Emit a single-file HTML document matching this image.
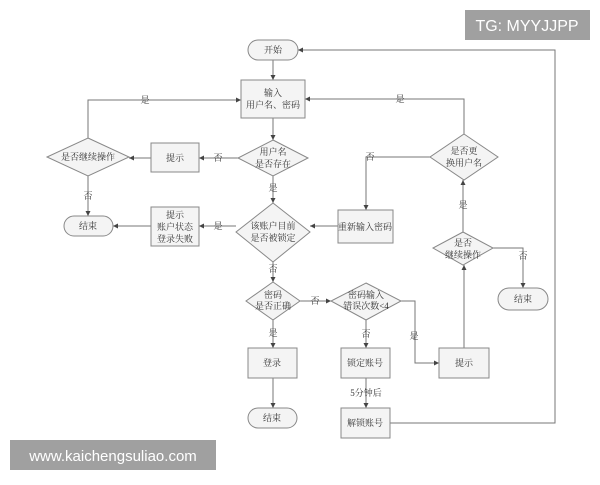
<!DOCTYPE html>
<html><head><meta charset="utf-8"><style>
body{margin:0;background:#fff;width:600px;height:480px;overflow:hidden}
svg text{font-family:"Liberation Serif","Noto Serif CJK SC",serif;font-size:9px;fill:#333}
</style></head><body>
<svg width="600" height="480" viewBox="0 0 600 480" xmlns="http://www.w3.org/2000/svg">
<defs><marker id="a" markerWidth="6" markerHeight="6" refX="5" refY="3" orient="auto"><path d="M0,0.5 L5,3 L0,5.5z" fill="#444"/></marker></defs>
<g fill="none" stroke="#777" stroke-width="1" marker-end="url(#a)">
<path d="M273,60V80"/>
<path d="M273,118V140"/>
<path d="M273,176V203"/>
<path d="M273,262V282"/>
<path d="M238,158H199"/>
<path d="M151,158H129"/>
<path d="M88,138V100H241"/>
<path d="M88,176V216"/>
<path d="M236,226H199"/>
<path d="M151,226H113"/>
<path d="M464,134V99H305"/>
<path d="M430,157H366V210"/>
<path d="M338,226H310"/>
<path d="M463,232V180"/>
<path d="M493,248H523V288"/>
<path d="M300,301H331"/>
<path d="M401,301H415V363H439"/>
<path d="M464,348V265"/>
<path d="M366,320V348"/>
<path d="M366,378V408"/>
<path d="M273,320V348"/>
<path d="M273,378V408"/>
<path d="M390,423H555V50H298"/>
</g>
<g fill="#f4f4f4" stroke="#888">
<rect x="248" y="40" width="50" height="20" rx="10"/>
<rect x="241" y="80" width="64" height="38"/>
<polygon points="273,140 308,158 273,176 238,158"/>
<polygon points="273,203 310,232 273,262 236,232"/>
<rect x="151" y="143" width="48" height="29"/>
<polygon points="88,138 129,157 88,176 47,157"/>
<rect x="64" y="216" width="49" height="20" rx="10"/>
<rect x="151" y="207" width="48" height="39"/>
<polygon points="464,134 498,157 464,180 430,157"/>
<rect x="338" y="210" width="55" height="33"/>
<polygon points="463,232 493,248 463,265 433,248"/>
<rect x="498" y="288" width="50" height="22" rx="11"/>
<polygon points="273,282 300,301 273,320 246,301"/>
<polygon points="366,283 401,301 366,320 331,301"/>
<rect x="439" y="348" width="50" height="30"/>
<rect x="341" y="348" width="49" height="30"/>
<rect x="341" y="408" width="49" height="30"/>
<rect x="248" y="348" width="49" height="30"/>
<rect x="248" y="408" width="49" height="20" rx="10"/>
</g>
<g text-anchor="middle">
<text x="273" y="53">开始</text>
<text x="273" y="96">输入</text><text x="273" y="108">用户名、密码</text>
<text x="273" y="155">用户名</text><text x="273" y="167">是否存在</text>
<text x="273" y="229">该账户目前</text><text x="273" y="241">是否被锁定</text>
<text x="175" y="161">提示</text>
<text x="88" y="160">是否继续操作</text>
<text x="88" y="229">结束</text>
<text x="175" y="218">提示</text><text x="175" y="230">账户状态</text><text x="175" y="242">登录失败</text>
<text x="464" y="154">是否更</text><text x="464" y="166">换用户名</text>
<text x="365" y="230">重新输入密码</text>
<text x="463" y="246">是否</text><text x="463" y="258">继续操作</text>
<text x="523" y="302">结束</text>
<text x="273" y="298">密码</text><text x="273" y="309">是否正确</text>
<text x="366" y="298">密码输入</text><text x="366" y="309">错误次数&lt;4</text>
<text x="464" y="366">提示</text>
<text x="365" y="366">锁定账号</text>
<text x="365" y="426">解锁账号</text>
<text x="272" y="366">登录</text>
<text x="272" y="421">结束</text>
<text x="366" y="396">5分钟后</text>
</g>
<g text-anchor="middle" font-size="9">
<text x="145" y="103">是</text><text x="400" y="102">是</text>
<text x="218" y="161">否</text><text x="273" y="191">是</text>
<text x="88" y="199">否</text><text x="218" y="229">是</text>
<text x="273" y="272">否</text><text x="370" y="160">否</text>
<text x="463" y="208">是</text><text x="523" y="259">否</text>
<text x="315" y="304">否</text><text x="366" y="337">否</text>
<text x="414" y="339">是</text><text x="273" y="336">是</text>
</g>
<rect x="465" y="10" width="125" height="30" fill="#a0a0a0"/>
<text x="527" y="31" text-anchor="middle" style="font-family:'Liberation Sans',sans-serif;font-size:16px;fill:#fff">TG: MYYJJPP</text>
<rect x="10" y="440" width="206" height="30" fill="#a0a0a0"/>
<text x="113" y="461" text-anchor="middle" style="font-family:'Liberation Sans',sans-serif;font-size:15px;fill:#fff">www.kaichengsuliao.com</text>
</svg>
</body></html>
